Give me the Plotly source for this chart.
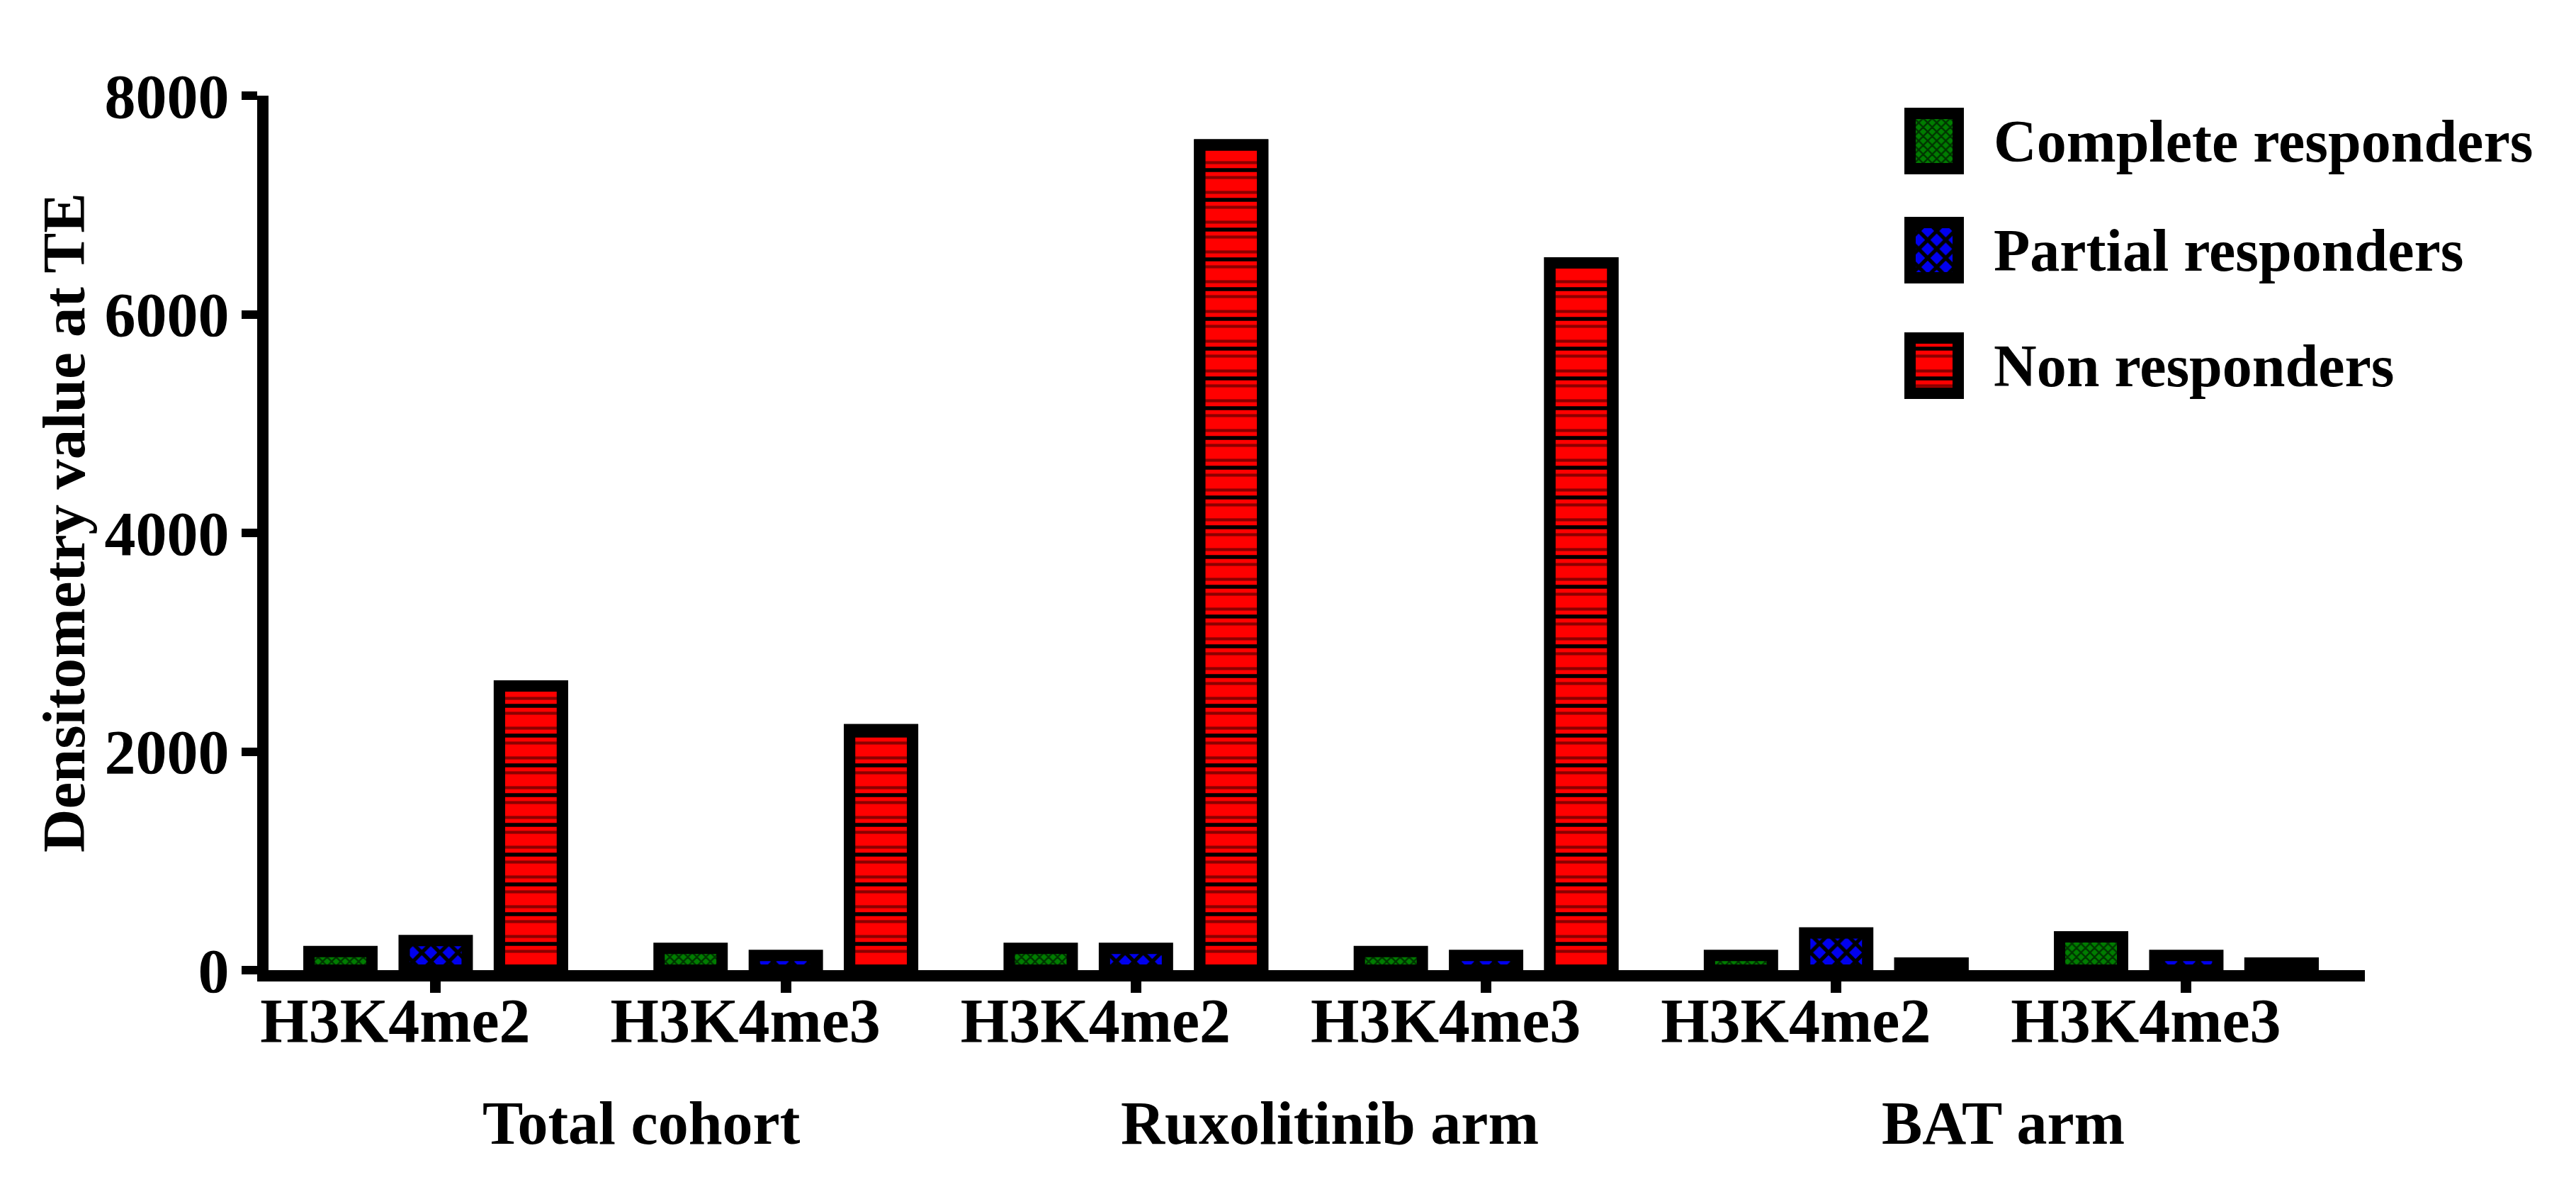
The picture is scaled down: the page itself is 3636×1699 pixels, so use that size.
import plotly.graph_objects as go

# ---------------- data ----------------
group_labels = ["Total cohort", "Ruxolitinib arm", "BAT arm"]
tick_labels = ["H3K4me2", "H3K4me3", "H3K4me2", "H3K4me3", "H3K4me2", "H3K4me3"]
series_names = ["Complete responders", "Partial responders", "Non responders"]
complete_resp = [170, 200, 200, 170, 135, 305]
partial_resp = [270, 135, 200, 135, 340, 135]
non_resp = [2600, 2200, 7550, 6470, 65, 65]
y_tick_vals = [0, 2000, 4000, 6000, 8000]

# ---------------- layout constants (pixels) ----------------
W, H = 3636, 1699
L, R, T, B = 371, 3330, 127, 1361
FONT = "Liberation Serif, Times New Roman, serif"
FS = 88
x_pos = list(range(len(tick_labels)))
X_RANGE = [-0.4775, 5.51]
BAR_W = 0.18
SLOT = 0.272
OUTLINE = 16

def px_to_paper_x(px):
    return (px - L) / (R - L)

def px_to_paper_y(py):
    return (B - py) / (B - T)

styles = {
    "Complete responders": dict(bg="#007d00", fg="#003300", shape="x", size=9, sol=0.45),
    "Partial responders": dict(bg="#0000ee", fg="#000000", shape="x", size=18, sol=0.5),
    "Non responders": dict(bg="#ff0000", fg="#8b0000", shape="-", size=21, sol=0.2),
}

values = [complete_resp, partial_resp, non_resp]
offsets = [-SLOT - BAR_W / 2, -BAR_W / 2, SLOT - BAR_W / 2]

fig = go.Figure()
for name, vals, off in zip(series_names, values, offsets):
    st = styles[name]
    fig.add_trace(go.Bar(
        x=x_pos, y=vals, name=name, width=BAR_W, offset=off,
        marker=dict(color=st["bg"], line=dict(color="black", width=OUTLINE),
                    pattern=dict(shape=st["shape"], fgcolor=st["fg"], bgcolor=st["bg"],
                                 size=st["size"], solidity=st["sol"], fillmode="replace")),
        showlegend=False, hoverinfo="x+y",
    ))
    if name == "Non responders":
        fig.add_trace(go.Bar(
            x=x_pos, y=vals, width=BAR_W, offset=off,
            marker=dict(color="rgba(0,0,0,0)", line=dict(color="black", width=OUTLINE),
                        pattern=dict(shape="-", fgcolor="#000000", bgcolor="rgba(0,0,0,0)",
                                     size=42, solidity=0.13, fillmode="replace")),
            showlegend=False, hoverinfo="skip",
        ))

# ---------------- legend swatches (pixel-space overlay axes) ----------------
LEG_SW_CX = 2722
LEG_SW_W = 84
LEG_SW_H = 94
LEG_ROWS_Y = [191, 345, 508]
LEG_TEXT_X = 2804
for name, cy in zip(series_names, LEG_ROWS_Y):
    st = styles[name]
    inner_h = LEG_SW_H - OUTLINE
    fig.add_trace(go.Bar(
        x=[LEG_SW_CX], y=[-inner_h], base=[cy + inner_h / 2], width=LEG_SW_W - OUTLINE,
        xaxis="x2", yaxis="y2",
        marker=dict(color=st["bg"], line=dict(color="black", width=OUTLINE),
                    pattern=dict(shape=st["shape"], fgcolor=st["fg"], bgcolor=st["bg"],
                                 size=st["size"], solidity=st["sol"], fillmode="replace")),
        showlegend=False, hoverinfo="skip",
    ))
    if name == "Non responders":
        fig.add_trace(go.Bar(
            x=[LEG_SW_CX], y=[-inner_h], base=[cy + inner_h / 2], width=LEG_SW_W - OUTLINE,
            xaxis="x2", yaxis="y2",
            marker=dict(color="rgba(0,0,0,0)", line=dict(color="black", width=OUTLINE),
                        pattern=dict(shape="-", fgcolor="#000000", bgcolor="rgba(0,0,0,0)",
                                     size=42, solidity=0.13, fillmode="replace")),
            showlegend=False, hoverinfo="skip",
        ))

annotations = []
for name, cy in zip(series_names, LEG_ROWS_Y):
    annotations.append(dict(
        text=name, xref="paper", yref="paper", x=px_to_paper_x(LEG_TEXT_X), y=px_to_paper_y(cy),
        xanchor="left", yanchor="middle", showarrow=False,
        font=dict(family=FONT, size=84, color="black", weight="bold"),
    ))

GROUP_LABEL_X = [0.587, 2.554, 4.476]
GROUP_LABEL_Y = 1577
for g, gx in zip(group_labels, GROUP_LABEL_X):
    annotations.append(dict(
        text=g, xref="x", yref="paper", x=gx, y=px_to_paper_y(GROUP_LABEL_Y),
        xanchor="center", yanchor="middle", showarrow=False,
        font=dict(family=FONT, size=86, color="black", weight="bold"),
    ))

annotations.append(dict(
    text="Densitometry value at TE", xref="paper", yref="paper",
    x=px_to_paper_x(82), y=px_to_paper_y(730), xanchor="center", yanchor="middle",
    textangle=-90, showarrow=False,
    font=dict(family=FONT, size=85, color="black", weight="bold"),
))

fig.update_layout(
    width=W, height=H,
    margin=dict(l=L, r=W - R, t=T, b=H - B, pad=0),
    paper_bgcolor="white", plot_bgcolor="white",
    barmode="overlay",
    showlegend=False,
    font=dict(family=FONT, size=FS, color="black"),
    xaxis=dict(
        range=X_RANGE, tickmode="array", tickvals=x_pos, ticktext=tick_labels,
        showline=True, linecolor="black", linewidth=16, ticks="outside", ticklen=16,
        tickwidth=15, tickcolor="black", showgrid=False, zeroline=False,
        ticklabelshift=-57, ticklabelstandoff=-37,
        tickfont=dict(family=FONT, size=FS, color="black", weight="bold"),
    ),
    yaxis=dict(
        range=[0, 8000], tickmode="array", tickvals=y_tick_vals,
        showline=True, linecolor="black", linewidth=16, ticks="outside", ticklen=22,
        tickwidth=12, tickcolor="black", showgrid=False, zeroline=False,
        tickfont=dict(family=FONT, size=FS, color="black", weight="bold"),
    ),
    xaxis2=dict(overlaying="x", range=[L, R], visible=False, anchor="y2"),
    yaxis2=dict(overlaying="y", range=[B, T], visible=False, anchor="x2"),
    annotations=annotations,
)

fig.write_html("out.html")
